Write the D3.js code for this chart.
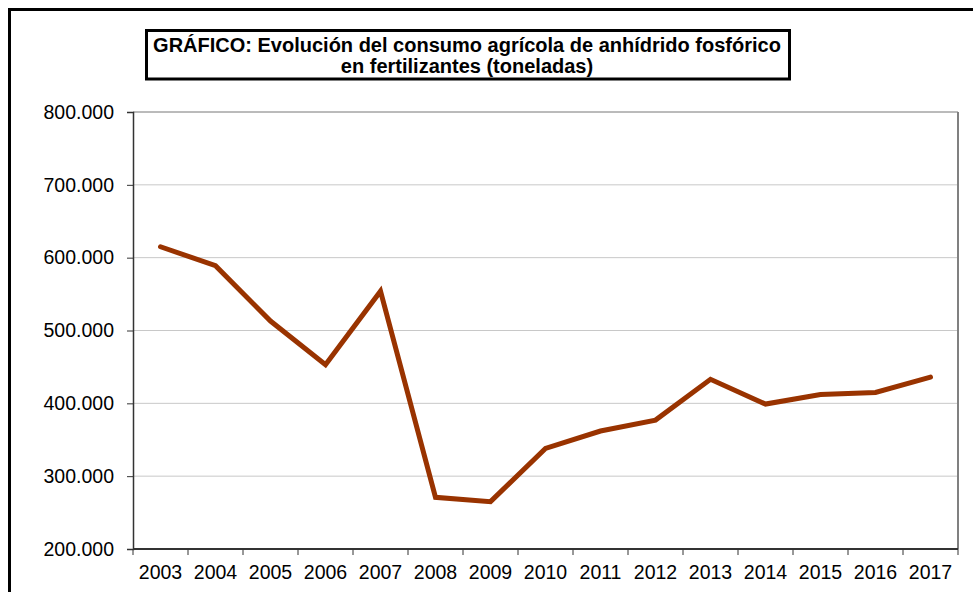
<!DOCTYPE html>
<html>
<head>
<meta charset="utf-8">
<script src="https://cdn.jsdelivr.net/npm/d3@7"></script>
<style>
  body { margin: 0; background: #fff; }
  svg { display: block; font-family: "Liberation Sans", Arial, sans-serif; }
</style>
</head>
<body>
<svg></svg>
<script>
const years = ['2003','2004','2005','2006','2007','2008','2009','2010','2011','2012','2013','2014','2015','2016','2017'];
const consumo = [615000, 589000, 513000, 453000, 554000, 271000, 265000, 338000, 362000, 377000, 433000, 399000, 412000, 415000, 436000];
const yTicks = [200000, 300000, 400000, 500000, 600000, 700000, 800000];
const titleLines = ['GRÁFICO: Evolución del consumo agrícola de anhídrido fosfórico', 'en fertilizantes (toneladas)'];

const W = 973, H = 592;
const plot = { left: 133, top: 112, right: 958, bottom: 549 };

const svg = d3.select('svg')
              .attr('width', W)
              .attr('height', H);

// outer frame (runs off right/bottom edge)
svg.append('rect')
   .attr('x', 9.5).attr('y', 9.5)
   .attr('width', W + 20).attr('height', H + 20)
   .attr('fill', 'none')
   .attr('stroke', '#000')
   .attr('stroke-width', 3);

// title box
svg.append('rect')
   .attr('x', 146.5).attr('y', 30.5)
   .attr('width', 643).attr('height', 48.5)
   .attr('fill', '#fff')
   .attr('stroke', '#000')
   .attr('stroke-width', 3);

svg.append('g')
   .selectAll('text')
   .data(titleLines)
   .enter()
   .append('text')
   .attr('x', 467)
   .attr('y', (d, i) => 52 + i * 21)
   .attr('text-anchor', 'middle')
   .attr('font-size', 20)
   .attr('font-weight', 'bold')
   .text(d => d);

const xScale = d3.scaleBand()
                 .range([plot.left, plot.right])
                 .domain(years);

const yScale = d3.scaleLinear()
                 .range([plot.bottom, plot.top])
                 .domain([200000, 800000]);

// grid lines
svg.append('g')
   .selectAll('line')
   .data(yTicks.filter(t => t > 200000))
   .enter()
   .append('line')
   .attr('x1', plot.left).attr('x2', plot.right)
   .attr('y1', d => yScale(d)).attr('y2', d => yScale(d))
   .attr('stroke', d => d === 800000 ? '#777' : '#c8c8c8')
   .attr('stroke-width', 1);

// right border of plot
svg.append('line')
   .attr('x1', plot.right).attr('x2', plot.right)
   .attr('y1', plot.top).attr('y2', plot.bottom)
   .attr('stroke', '#808080')
   .attr('stroke-width', 2);

// y axis
const yAxis = svg.append('g')
   .attr('transform', `translate(${plot.left},0)`)
   .call(d3.axisLeft(yScale)
           .tickValues(yTicks)
           .tickSize(6)
           .tickPadding(13)
           .tickFormat(d => d3.format(',')(d).replace(/,/g, '.')));
yAxis.select('.domain').attr('stroke', '#333').attr('stroke-width', 1.5);
yAxis.selectAll('.tick line').attr('stroke', '#333');
yAxis.selectAll('text')
     .attr('font-size', 19.5)
     .attr('font-family', '"Liberation Sans", Arial, sans-serif')
     .attr('fill', '#000');

// x axis with ticks between categories
const xAxis = svg.append('g')
   .attr('transform', `translate(0,${plot.bottom})`);
xAxis.append('line')
     .attr('x1', plot.left).attr('x2', plot.right)
     .attr('stroke', '#333').attr('stroke-width', 2);
xAxis.selectAll('.tk')
     .data(years.concat(['end']))
     .enter()
     .append('line')
     .attr('class', 'tk')
     .attr('x1', (d, i) => i < years.length ? xScale(d) : plot.right)
     .attr('x2', (d, i) => i < years.length ? xScale(d) : plot.right)
     .attr('y1', 0).attr('y2', 6)
     .attr('stroke', '#333');
xAxis.selectAll('text')
     .data(years)
     .enter()
     .append('text')
     .attr('x', d => xScale(d) + xScale.bandwidth() / 2)
     .attr('y', 30)
     .attr('text-anchor', 'middle')
     .attr('font-size', 19.5)
     .text(d => d);

// the line
const line = d3.line()
               .x((d, i) => xScale(years[i]) + xScale.bandwidth() / 2)
               .y(d => yScale(d));

svg.append('path')
   .datum(consumo)
   .attr('d', line)
   .attr('fill', 'none')
   .attr('stroke', '#993300')
   .attr('stroke-width', 5)
   .attr('stroke-linejoin', 'miter')
   .attr('stroke-linecap', 'round');
</script>
</body>
</html>
